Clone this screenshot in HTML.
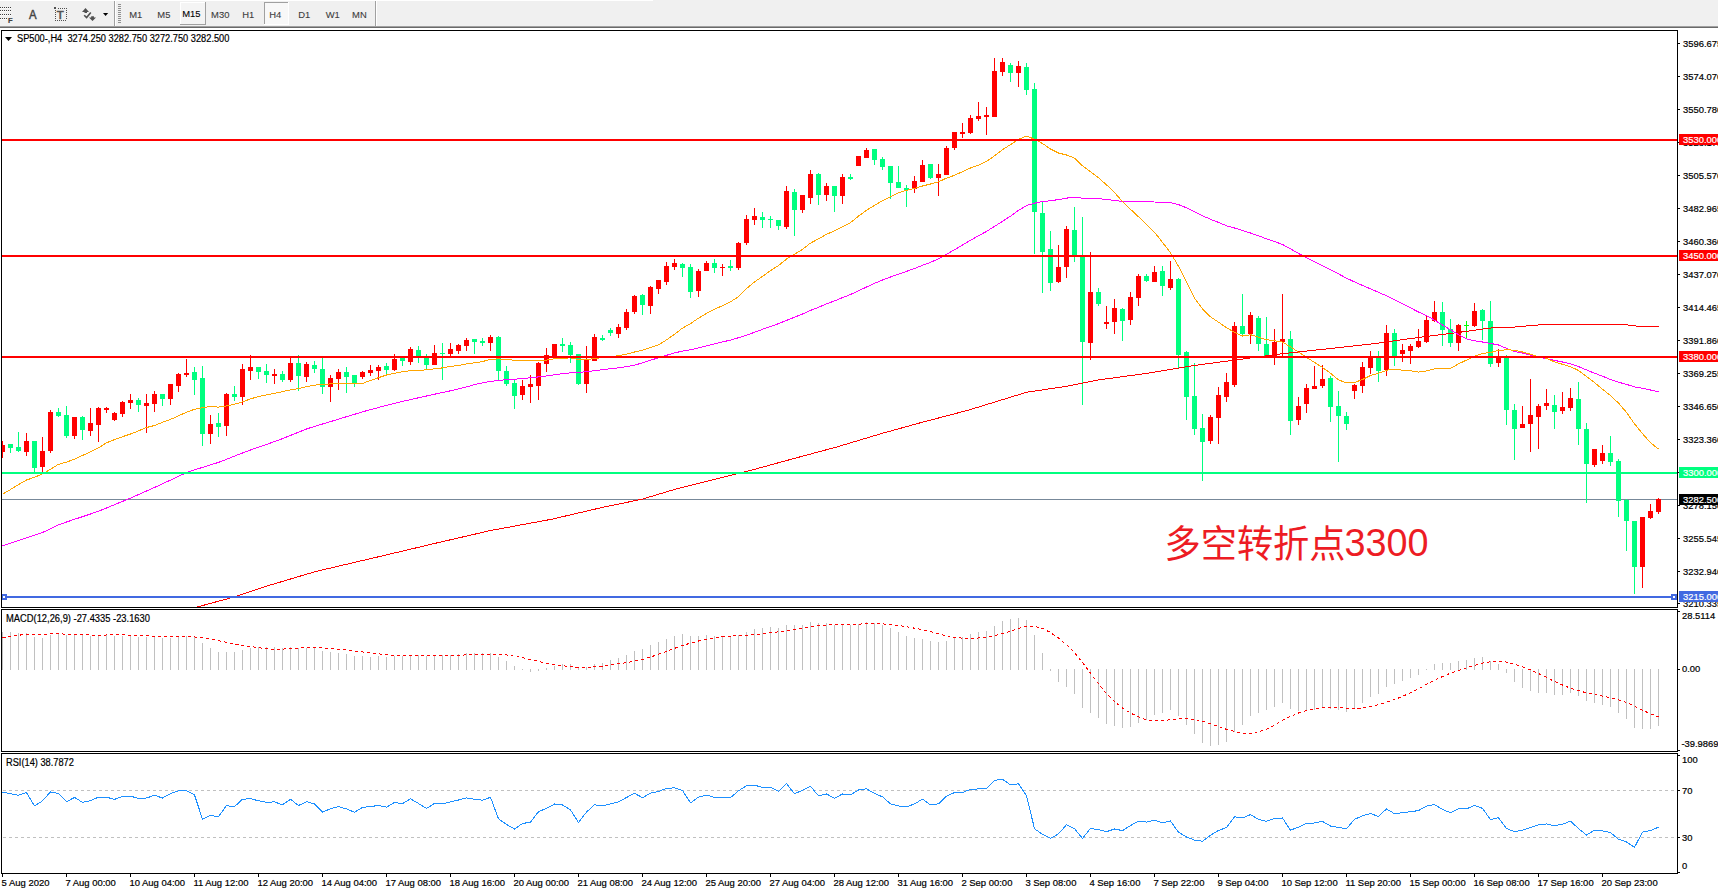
<!DOCTYPE html><html><head><meta charset="utf-8"><style>html,body{margin:0;padding:0;background:#fff;overflow:hidden}svg{display:block} text{font-family:'Liberation Sans', Arial, sans-serif;} .c{shape-rendering:crispEdges}</style></head><body>
<svg width="1718" height="891" viewBox="0 0 1718 891">
<rect x="0" y="0" width="1718" height="891" fill="#ffffff"/>
<g id="toolbar" class="c">
<rect x="0" y="0" width="1718" height="26" fill="#f0f0f0"/>
<rect x="0" y="0" width="653" height="1" fill="#ffffff"/>
<rect x="0" y="26" width="1718" height="1" fill="#a0a0a0"/>
<rect x="0" y="27" width="1718" height="1" fill="#696969"/>
</g>
<defs><clipPath id="cm"><rect x="2" y="31" width="1675" height="576"/></clipPath><clipPath id="cmacd"><rect x="2" y="611" width="1675" height="140"/></clipPath><clipPath id="crsi"><rect x="2" y="754" width="1675" height="118"/></clipPath></defs>
<rect x="2" y="499" width="1675" height="1" fill="#778899" class="c"/>
<g clip-path="url(#cm)" class="c">
<rect x="2" y="441" width="1" height="17" fill="#ff0000"/>
<rect x="0" y="445" width="5" height="7" fill="#ff0000"/>
<rect x="10" y="444" width="1" height="9" fill="#00ff7f"/>
<rect x="8" y="444" width="5" height="4" fill="#00ff7f"/>
<rect x="18" y="432" width="1" height="20" fill="#00ff7f"/>
<rect x="16" y="447" width="5" height="4" fill="#00ff7f"/>
<rect x="26" y="433" width="1" height="23" fill="#ff0000"/>
<rect x="24" y="441" width="5" height="11" fill="#ff0000"/>
<rect x="34" y="441" width="1" height="31" fill="#00ff7f"/>
<rect x="32" y="441" width="5" height="27" fill="#00ff7f"/>
<rect x="42" y="437" width="1" height="35" fill="#ff0000"/>
<rect x="40" y="451" width="5" height="16" fill="#ff0000"/>
<rect x="50" y="410" width="1" height="43" fill="#ff0000"/>
<rect x="48" y="412" width="5" height="39" fill="#ff0000"/>
<rect x="58" y="408" width="1" height="9" fill="#00ff7f"/>
<rect x="56" y="412" width="5" height="4" fill="#00ff7f"/>
<rect x="66" y="406" width="1" height="32" fill="#00ff7f"/>
<rect x="64" y="415" width="5" height="21" fill="#00ff7f"/>
<rect x="74" y="417" width="1" height="22" fill="#ff0000"/>
<rect x="72" y="417" width="5" height="19" fill="#ff0000"/>
<rect x="82" y="416" width="1" height="24" fill="#00ff7f"/>
<rect x="80" y="417" width="5" height="13" fill="#00ff7f"/>
<rect x="90" y="408" width="1" height="28" fill="#ff0000"/>
<rect x="88" y="423" width="5" height="8" fill="#ff0000"/>
<rect x="98" y="407" width="1" height="35" fill="#ff0000"/>
<rect x="96" y="408" width="5" height="17" fill="#ff0000"/>
<rect x="106" y="407" width="1" height="6" fill="#ff0000"/>
<rect x="104" y="408" width="5" height="2" fill="#ff0000"/>
<rect x="114" y="412" width="1" height="9" fill="#ff0000"/>
<rect x="112" y="413" width="5" height="7" fill="#ff0000"/>
<rect x="122" y="401" width="1" height="16" fill="#ff0000"/>
<rect x="120" y="402" width="5" height="12" fill="#ff0000"/>
<rect x="130" y="394" width="1" height="15" fill="#ff0000"/>
<rect x="128" y="400" width="5" height="3" fill="#ff0000"/>
<rect x="138" y="398" width="1" height="14" fill="#00ff7f"/>
<rect x="136" y="400" width="5" height="5" fill="#00ff7f"/>
<rect x="146" y="394" width="1" height="39" fill="#ff0000"/>
<rect x="144" y="403" width="5" height="3" fill="#ff0000"/>
<rect x="154" y="391" width="1" height="21" fill="#ff0000"/>
<rect x="152" y="394" width="5" height="10" fill="#ff0000"/>
<rect x="162" y="394" width="1" height="12" fill="#00ff7f"/>
<rect x="160" y="394" width="5" height="5" fill="#00ff7f"/>
<rect x="170" y="384" width="1" height="21" fill="#ff0000"/>
<rect x="168" y="384" width="5" height="15" fill="#ff0000"/>
<rect x="178" y="373" width="1" height="19" fill="#ff0000"/>
<rect x="176" y="374" width="5" height="12" fill="#ff0000"/>
<rect x="186" y="359" width="1" height="18" fill="#ff0000"/>
<rect x="184" y="373" width="5" height="2" fill="#ff0000"/>
<rect x="194" y="367" width="1" height="28" fill="#00ff7f"/>
<rect x="192" y="372" width="5" height="8" fill="#00ff7f"/>
<rect x="202" y="366" width="1" height="80" fill="#00ff7f"/>
<rect x="200" y="378" width="5" height="56" fill="#00ff7f"/>
<rect x="210" y="415" width="1" height="29" fill="#ff0000"/>
<rect x="208" y="424" width="5" height="10" fill="#ff0000"/>
<rect x="218" y="413" width="1" height="24" fill="#00ff7f"/>
<rect x="216" y="423" width="5" height="4" fill="#00ff7f"/>
<rect x="226" y="393" width="1" height="43" fill="#ff0000"/>
<rect x="224" y="394" width="5" height="32" fill="#ff0000"/>
<rect x="234" y="386" width="1" height="15" fill="#00ff7f"/>
<rect x="232" y="394" width="5" height="3" fill="#00ff7f"/>
<rect x="242" y="364" width="1" height="41" fill="#ff0000"/>
<rect x="240" y="369" width="5" height="28" fill="#ff0000"/>
<rect x="250" y="355" width="1" height="25" fill="#ff0000"/>
<rect x="248" y="367" width="5" height="4" fill="#ff0000"/>
<rect x="258" y="367" width="1" height="12" fill="#00ff7f"/>
<rect x="256" y="367" width="5" height="5" fill="#00ff7f"/>
<rect x="266" y="364" width="1" height="19" fill="#00ff7f"/>
<rect x="264" y="371" width="5" height="4" fill="#00ff7f"/>
<rect x="274" y="369" width="1" height="15" fill="#ff0000"/>
<rect x="272" y="374" width="5" height="2" fill="#ff0000"/>
<rect x="282" y="371" width="1" height="11" fill="#00ff7f"/>
<rect x="280" y="374" width="5" height="6" fill="#00ff7f"/>
<rect x="290" y="357" width="1" height="25" fill="#ff0000"/>
<rect x="288" y="363" width="5" height="17" fill="#ff0000"/>
<rect x="298" y="355" width="1" height="36" fill="#00ff7f"/>
<rect x="296" y="363" width="5" height="13" fill="#00ff7f"/>
<rect x="306" y="362" width="1" height="20" fill="#ff0000"/>
<rect x="304" y="364" width="5" height="13" fill="#ff0000"/>
<rect x="314" y="361" width="1" height="12" fill="#00ff7f"/>
<rect x="312" y="365" width="5" height="4" fill="#00ff7f"/>
<rect x="322" y="357" width="1" height="37" fill="#00ff7f"/>
<rect x="320" y="369" width="5" height="18" fill="#00ff7f"/>
<rect x="330" y="375" width="1" height="27" fill="#ff0000"/>
<rect x="328" y="378" width="5" height="9" fill="#ff0000"/>
<rect x="338" y="369" width="1" height="21" fill="#ff0000"/>
<rect x="336" y="372" width="5" height="7" fill="#ff0000"/>
<rect x="346" y="367" width="1" height="26" fill="#00ff7f"/>
<rect x="344" y="372" width="5" height="5" fill="#00ff7f"/>
<rect x="354" y="375" width="1" height="12" fill="#00ff7f"/>
<rect x="352" y="375" width="5" height="9" fill="#00ff7f"/>
<rect x="362" y="371" width="1" height="8" fill="#ff0000"/>
<rect x="360" y="372" width="5" height="5" fill="#ff0000"/>
<rect x="370" y="365" width="1" height="11" fill="#ff0000"/>
<rect x="368" y="370" width="5" height="3" fill="#ff0000"/>
<rect x="378" y="365" width="1" height="15" fill="#ff0000"/>
<rect x="376" y="367" width="5" height="4" fill="#ff0000"/>
<rect x="386" y="363" width="1" height="12" fill="#00ff7f"/>
<rect x="384" y="366" width="5" height="4" fill="#00ff7f"/>
<rect x="394" y="354" width="1" height="17" fill="#ff0000"/>
<rect x="392" y="359" width="5" height="11" fill="#ff0000"/>
<rect x="402" y="356" width="1" height="10" fill="#00ff7f"/>
<rect x="400" y="358" width="5" height="3" fill="#00ff7f"/>
<rect x="410" y="347" width="1" height="18" fill="#ff0000"/>
<rect x="408" y="349" width="5" height="13" fill="#ff0000"/>
<rect x="418" y="346" width="1" height="17" fill="#00ff7f"/>
<rect x="416" y="350" width="5" height="6" fill="#00ff7f"/>
<rect x="426" y="354" width="1" height="16" fill="#00ff7f"/>
<rect x="424" y="358" width="5" height="7" fill="#00ff7f"/>
<rect x="434" y="345" width="1" height="20" fill="#ff0000"/>
<rect x="432" y="353" width="5" height="12" fill="#ff0000"/>
<rect x="442" y="343" width="1" height="37" fill="#00ff7f"/>
<rect x="440" y="353" width="5" height="1" fill="#00ff7f"/>
<rect x="450" y="343" width="1" height="13" fill="#ff0000"/>
<rect x="448" y="349" width="5" height="5" fill="#ff0000"/>
<rect x="458" y="344" width="1" height="10" fill="#ff0000"/>
<rect x="456" y="345" width="5" height="6" fill="#ff0000"/>
<rect x="466" y="338" width="1" height="13" fill="#ff0000"/>
<rect x="464" y="340" width="5" height="6" fill="#ff0000"/>
<rect x="474" y="339" width="1" height="15" fill="#00ff7f"/>
<rect x="472" y="339" width="5" height="3" fill="#00ff7f"/>
<rect x="482" y="338" width="1" height="8" fill="#00ff7f"/>
<rect x="480" y="341" width="5" height="2" fill="#00ff7f"/>
<rect x="490" y="335" width="1" height="16" fill="#ff0000"/>
<rect x="488" y="337" width="5" height="6" fill="#ff0000"/>
<rect x="498" y="336" width="1" height="44" fill="#00ff7f"/>
<rect x="496" y="337" width="5" height="34" fill="#00ff7f"/>
<rect x="506" y="366" width="1" height="20" fill="#00ff7f"/>
<rect x="504" y="371" width="5" height="13" fill="#00ff7f"/>
<rect x="514" y="380" width="1" height="29" fill="#00ff7f"/>
<rect x="512" y="383" width="5" height="13" fill="#00ff7f"/>
<rect x="522" y="380" width="1" height="20" fill="#ff0000"/>
<rect x="520" y="386" width="5" height="9" fill="#ff0000"/>
<rect x="530" y="375" width="1" height="28" fill="#ff0000"/>
<rect x="528" y="384" width="5" height="3" fill="#ff0000"/>
<rect x="538" y="362" width="1" height="38" fill="#ff0000"/>
<rect x="536" y="363" width="5" height="23" fill="#ff0000"/>
<rect x="546" y="348" width="1" height="24" fill="#ff0000"/>
<rect x="544" y="355" width="5" height="9" fill="#ff0000"/>
<rect x="554" y="344" width="1" height="15" fill="#ff0000"/>
<rect x="552" y="344" width="5" height="14" fill="#ff0000"/>
<rect x="562" y="338" width="1" height="14" fill="#00ff7f"/>
<rect x="560" y="344" width="5" height="2" fill="#00ff7f"/>
<rect x="570" y="342" width="1" height="21" fill="#00ff7f"/>
<rect x="568" y="345" width="5" height="10" fill="#00ff7f"/>
<rect x="578" y="354" width="1" height="31" fill="#00ff7f"/>
<rect x="576" y="354" width="5" height="30" fill="#00ff7f"/>
<rect x="586" y="346" width="1" height="47" fill="#ff0000"/>
<rect x="584" y="359" width="5" height="25" fill="#ff0000"/>
<rect x="594" y="334" width="1" height="27" fill="#ff0000"/>
<rect x="592" y="337" width="5" height="24" fill="#ff0000"/>
<rect x="602" y="335" width="1" height="6" fill="#00ff7f"/>
<rect x="600" y="338" width="5" height="2" fill="#00ff7f"/>
<rect x="610" y="328" width="1" height="8" fill="#00ff7f"/>
<rect x="608" y="330" width="5" height="3" fill="#00ff7f"/>
<rect x="618" y="324" width="1" height="14" fill="#ff0000"/>
<rect x="616" y="327" width="5" height="7" fill="#ff0000"/>
<rect x="626" y="309" width="1" height="21" fill="#ff0000"/>
<rect x="624" y="312" width="5" height="16" fill="#ff0000"/>
<rect x="634" y="295" width="1" height="19" fill="#ff0000"/>
<rect x="632" y="296" width="5" height="16" fill="#ff0000"/>
<rect x="642" y="294" width="1" height="21" fill="#00ff7f"/>
<rect x="640" y="295" width="5" height="10" fill="#00ff7f"/>
<rect x="650" y="286" width="1" height="28" fill="#ff0000"/>
<rect x="648" y="287" width="5" height="19" fill="#ff0000"/>
<rect x="658" y="280" width="1" height="14" fill="#ff0000"/>
<rect x="656" y="280" width="5" height="9" fill="#ff0000"/>
<rect x="666" y="262" width="1" height="23" fill="#ff0000"/>
<rect x="664" y="266" width="5" height="16" fill="#ff0000"/>
<rect x="674" y="259" width="1" height="11" fill="#ff0000"/>
<rect x="672" y="263" width="5" height="4" fill="#ff0000"/>
<rect x="682" y="263" width="1" height="14" fill="#00ff7f"/>
<rect x="680" y="264" width="5" height="4" fill="#00ff7f"/>
<rect x="690" y="264" width="1" height="34" fill="#00ff7f"/>
<rect x="688" y="267" width="5" height="25" fill="#00ff7f"/>
<rect x="698" y="269" width="1" height="28" fill="#ff0000"/>
<rect x="696" y="271" width="5" height="20" fill="#ff0000"/>
<rect x="706" y="261" width="1" height="10" fill="#ff0000"/>
<rect x="704" y="263" width="5" height="8" fill="#ff0000"/>
<rect x="714" y="259" width="1" height="14" fill="#00ff7f"/>
<rect x="712" y="263" width="5" height="5" fill="#00ff7f"/>
<rect x="722" y="264" width="1" height="12" fill="#ff0000"/>
<rect x="720" y="267" width="5" height="1" fill="#ff0000"/>
<rect x="730" y="260" width="1" height="11" fill="#00ff7f"/>
<rect x="728" y="266" width="5" height="2" fill="#00ff7f"/>
<rect x="738" y="242" width="1" height="28" fill="#ff0000"/>
<rect x="736" y="243" width="5" height="25" fill="#ff0000"/>
<rect x="746" y="215" width="1" height="30" fill="#ff0000"/>
<rect x="744" y="219" width="5" height="24" fill="#ff0000"/>
<rect x="754" y="208" width="1" height="17" fill="#ff0000"/>
<rect x="752" y="216" width="5" height="4" fill="#ff0000"/>
<rect x="762" y="212" width="1" height="16" fill="#00ff7f"/>
<rect x="760" y="217" width="5" height="3" fill="#00ff7f"/>
<rect x="770" y="216" width="1" height="12" fill="#00ff7f"/>
<rect x="768" y="219" width="5" height="1" fill="#00ff7f"/>
<rect x="778" y="220" width="1" height="10" fill="#00ff7f"/>
<rect x="776" y="220" width="5" height="6" fill="#00ff7f"/>
<rect x="786" y="186" width="1" height="43" fill="#ff0000"/>
<rect x="784" y="191" width="5" height="36" fill="#ff0000"/>
<rect x="794" y="189" width="1" height="47" fill="#00ff7f"/>
<rect x="792" y="192" width="5" height="18" fill="#00ff7f"/>
<rect x="802" y="195" width="1" height="18" fill="#ff0000"/>
<rect x="800" y="195" width="5" height="15" fill="#ff0000"/>
<rect x="810" y="170" width="1" height="34" fill="#ff0000"/>
<rect x="808" y="174" width="5" height="24" fill="#ff0000"/>
<rect x="818" y="173" width="1" height="32" fill="#00ff7f"/>
<rect x="816" y="174" width="5" height="21" fill="#00ff7f"/>
<rect x="826" y="183" width="1" height="18" fill="#ff0000"/>
<rect x="824" y="186" width="5" height="9" fill="#ff0000"/>
<rect x="834" y="186" width="1" height="26" fill="#00ff7f"/>
<rect x="832" y="186" width="5" height="10" fill="#00ff7f"/>
<rect x="842" y="174" width="1" height="30" fill="#ff0000"/>
<rect x="840" y="177" width="5" height="19" fill="#ff0000"/>
<rect x="850" y="174" width="1" height="6" fill="#00ff7f"/>
<rect x="848" y="177" width="5" height="2" fill="#00ff7f"/>
<rect x="858" y="156" width="1" height="10" fill="#ff0000"/>
<rect x="856" y="156" width="5" height="10" fill="#ff0000"/>
<rect x="866" y="148" width="1" height="10" fill="#ff0000"/>
<rect x="864" y="150" width="5" height="8" fill="#ff0000"/>
<rect x="874" y="149" width="1" height="16" fill="#00ff7f"/>
<rect x="872" y="149" width="5" height="11" fill="#00ff7f"/>
<rect x="882" y="157" width="1" height="13" fill="#00ff7f"/>
<rect x="880" y="159" width="5" height="8" fill="#00ff7f"/>
<rect x="890" y="166" width="1" height="33" fill="#00ff7f"/>
<rect x="888" y="166" width="5" height="17" fill="#00ff7f"/>
<rect x="898" y="166" width="1" height="22" fill="#00ff7f"/>
<rect x="896" y="182" width="5" height="6" fill="#00ff7f"/>
<rect x="906" y="185" width="1" height="22" fill="#00ff7f"/>
<rect x="904" y="188" width="5" height="2" fill="#00ff7f"/>
<rect x="914" y="176" width="1" height="17" fill="#ff0000"/>
<rect x="912" y="181" width="5" height="8" fill="#ff0000"/>
<rect x="922" y="160" width="1" height="22" fill="#ff0000"/>
<rect x="920" y="165" width="5" height="17" fill="#ff0000"/>
<rect x="930" y="164" width="1" height="15" fill="#00ff7f"/>
<rect x="928" y="164" width="5" height="14" fill="#00ff7f"/>
<rect x="938" y="164" width="1" height="32" fill="#ff0000"/>
<rect x="936" y="174" width="5" height="4" fill="#ff0000"/>
<rect x="946" y="146" width="1" height="29" fill="#ff0000"/>
<rect x="944" y="148" width="5" height="27" fill="#ff0000"/>
<rect x="954" y="132" width="1" height="18" fill="#ff0000"/>
<rect x="952" y="132" width="5" height="16" fill="#ff0000"/>
<rect x="962" y="123" width="1" height="15" fill="#ff0000"/>
<rect x="960" y="132" width="5" height="2" fill="#ff0000"/>
<rect x="970" y="115" width="1" height="19" fill="#ff0000"/>
<rect x="968" y="118" width="5" height="15" fill="#ff0000"/>
<rect x="978" y="102" width="1" height="19" fill="#ff0000"/>
<rect x="976" y="116" width="5" height="3" fill="#ff0000"/>
<rect x="986" y="107" width="1" height="28" fill="#ff0000"/>
<rect x="984" y="115" width="5" height="2" fill="#ff0000"/>
<rect x="994" y="58" width="1" height="59" fill="#ff0000"/>
<rect x="992" y="71" width="5" height="46" fill="#ff0000"/>
<rect x="1002" y="58" width="1" height="18" fill="#ff0000"/>
<rect x="1000" y="62" width="5" height="10" fill="#ff0000"/>
<rect x="1010" y="63" width="1" height="19" fill="#00ff7f"/>
<rect x="1008" y="65" width="5" height="8" fill="#00ff7f"/>
<rect x="1018" y="61" width="1" height="26" fill="#ff0000"/>
<rect x="1016" y="66" width="5" height="7" fill="#ff0000"/>
<rect x="1026" y="63" width="1" height="32" fill="#00ff7f"/>
<rect x="1024" y="67" width="5" height="23" fill="#00ff7f"/>
<rect x="1034" y="83" width="1" height="171" fill="#00ff7f"/>
<rect x="1032" y="89" width="5" height="123" fill="#00ff7f"/>
<rect x="1042" y="202" width="1" height="91" fill="#00ff7f"/>
<rect x="1040" y="213" width="5" height="39" fill="#00ff7f"/>
<rect x="1050" y="231" width="1" height="60" fill="#00ff7f"/>
<rect x="1048" y="249" width="5" height="34" fill="#00ff7f"/>
<rect x="1058" y="245" width="1" height="38" fill="#ff0000"/>
<rect x="1056" y="267" width="5" height="15" fill="#ff0000"/>
<rect x="1066" y="226" width="1" height="52" fill="#ff0000"/>
<rect x="1064" y="229" width="5" height="38" fill="#ff0000"/>
<rect x="1074" y="207" width="1" height="55" fill="#00ff7f"/>
<rect x="1072" y="230" width="5" height="26" fill="#00ff7f"/>
<rect x="1082" y="217" width="1" height="188" fill="#00ff7f"/>
<rect x="1080" y="257" width="5" height="85" fill="#00ff7f"/>
<rect x="1090" y="252" width="1" height="108" fill="#ff0000"/>
<rect x="1088" y="292" width="5" height="51" fill="#ff0000"/>
<rect x="1098" y="288" width="1" height="18" fill="#00ff7f"/>
<rect x="1096" y="292" width="5" height="12" fill="#00ff7f"/>
<rect x="1106" y="306" width="1" height="23" fill="#ff0000"/>
<rect x="1104" y="322" width="5" height="2" fill="#ff0000"/>
<rect x="1114" y="299" width="1" height="35" fill="#ff0000"/>
<rect x="1112" y="308" width="5" height="14" fill="#ff0000"/>
<rect x="1122" y="308" width="1" height="33" fill="#00ff7f"/>
<rect x="1120" y="309" width="5" height="12" fill="#00ff7f"/>
<rect x="1130" y="292" width="1" height="33" fill="#ff0000"/>
<rect x="1128" y="297" width="5" height="23" fill="#ff0000"/>
<rect x="1138" y="274" width="1" height="32" fill="#ff0000"/>
<rect x="1136" y="276" width="5" height="22" fill="#ff0000"/>
<rect x="1146" y="274" width="1" height="8" fill="#00ff7f"/>
<rect x="1144" y="276" width="5" height="5" fill="#00ff7f"/>
<rect x="1154" y="266" width="1" height="16" fill="#ff0000"/>
<rect x="1152" y="272" width="5" height="10" fill="#ff0000"/>
<rect x="1162" y="266" width="1" height="30" fill="#00ff7f"/>
<rect x="1160" y="271" width="5" height="15" fill="#00ff7f"/>
<rect x="1170" y="261" width="1" height="29" fill="#ff0000"/>
<rect x="1168" y="279" width="5" height="9" fill="#ff0000"/>
<rect x="1178" y="278" width="1" height="90" fill="#00ff7f"/>
<rect x="1176" y="279" width="5" height="76" fill="#00ff7f"/>
<rect x="1186" y="351" width="1" height="69" fill="#00ff7f"/>
<rect x="1184" y="352" width="5" height="45" fill="#00ff7f"/>
<rect x="1194" y="363" width="1" height="72" fill="#00ff7f"/>
<rect x="1192" y="396" width="5" height="33" fill="#00ff7f"/>
<rect x="1202" y="414" width="1" height="67" fill="#00ff7f"/>
<rect x="1200" y="428" width="5" height="14" fill="#00ff7f"/>
<rect x="1210" y="415" width="1" height="29" fill="#ff0000"/>
<rect x="1208" y="417" width="5" height="24" fill="#ff0000"/>
<rect x="1218" y="387" width="1" height="57" fill="#ff0000"/>
<rect x="1216" y="395" width="5" height="23" fill="#ff0000"/>
<rect x="1226" y="373" width="1" height="29" fill="#ff0000"/>
<rect x="1224" y="382" width="5" height="15" fill="#ff0000"/>
<rect x="1234" y="322" width="1" height="65" fill="#ff0000"/>
<rect x="1232" y="326" width="5" height="59" fill="#ff0000"/>
<rect x="1242" y="294" width="1" height="42" fill="#00ff7f"/>
<rect x="1240" y="326" width="5" height="8" fill="#00ff7f"/>
<rect x="1250" y="312" width="1" height="32" fill="#ff0000"/>
<rect x="1248" y="315" width="5" height="19" fill="#ff0000"/>
<rect x="1258" y="316" width="1" height="35" fill="#00ff7f"/>
<rect x="1256" y="318" width="5" height="26" fill="#00ff7f"/>
<rect x="1266" y="317" width="1" height="39" fill="#00ff7f"/>
<rect x="1264" y="344" width="5" height="12" fill="#00ff7f"/>
<rect x="1274" y="329" width="1" height="36" fill="#ff0000"/>
<rect x="1272" y="342" width="5" height="15" fill="#ff0000"/>
<rect x="1282" y="294" width="1" height="62" fill="#ff0000"/>
<rect x="1280" y="339" width="5" height="3" fill="#ff0000"/>
<rect x="1290" y="331" width="1" height="104" fill="#00ff7f"/>
<rect x="1288" y="339" width="5" height="82" fill="#00ff7f"/>
<rect x="1298" y="397" width="1" height="28" fill="#ff0000"/>
<rect x="1296" y="406" width="5" height="14" fill="#ff0000"/>
<rect x="1306" y="384" width="1" height="29" fill="#ff0000"/>
<rect x="1304" y="388" width="5" height="16" fill="#ff0000"/>
<rect x="1314" y="366" width="1" height="23" fill="#ff0000"/>
<rect x="1312" y="386" width="5" height="3" fill="#ff0000"/>
<rect x="1322" y="365" width="1" height="23" fill="#ff0000"/>
<rect x="1320" y="379" width="5" height="7" fill="#ff0000"/>
<rect x="1330" y="376" width="1" height="46" fill="#00ff7f"/>
<rect x="1328" y="378" width="5" height="29" fill="#00ff7f"/>
<rect x="1338" y="391" width="1" height="71" fill="#00ff7f"/>
<rect x="1336" y="406" width="5" height="10" fill="#00ff7f"/>
<rect x="1346" y="412" width="1" height="18" fill="#00ff7f"/>
<rect x="1344" y="416" width="5" height="8" fill="#00ff7f"/>
<rect x="1354" y="384" width="1" height="15" fill="#ff0000"/>
<rect x="1352" y="385" width="5" height="6" fill="#ff0000"/>
<rect x="1362" y="362" width="1" height="31" fill="#ff0000"/>
<rect x="1360" y="367" width="5" height="19" fill="#ff0000"/>
<rect x="1370" y="351" width="1" height="23" fill="#ff0000"/>
<rect x="1368" y="356" width="5" height="12" fill="#ff0000"/>
<rect x="1378" y="351" width="1" height="31" fill="#00ff7f"/>
<rect x="1376" y="357" width="5" height="14" fill="#00ff7f"/>
<rect x="1386" y="325" width="1" height="51" fill="#ff0000"/>
<rect x="1384" y="333" width="5" height="37" fill="#ff0000"/>
<rect x="1394" y="329" width="1" height="37" fill="#00ff7f"/>
<rect x="1392" y="333" width="5" height="23" fill="#00ff7f"/>
<rect x="1402" y="344" width="1" height="18" fill="#ff0000"/>
<rect x="1400" y="350" width="5" height="4" fill="#ff0000"/>
<rect x="1410" y="344" width="1" height="20" fill="#ff0000"/>
<rect x="1408" y="346" width="5" height="5" fill="#ff0000"/>
<rect x="1418" y="329" width="1" height="19" fill="#ff0000"/>
<rect x="1416" y="341" width="5" height="6" fill="#ff0000"/>
<rect x="1426" y="316" width="1" height="27" fill="#ff0000"/>
<rect x="1424" y="320" width="5" height="22" fill="#ff0000"/>
<rect x="1434" y="301" width="1" height="21" fill="#ff0000"/>
<rect x="1432" y="312" width="5" height="9" fill="#ff0000"/>
<rect x="1442" y="302" width="1" height="44" fill="#00ff7f"/>
<rect x="1440" y="312" width="5" height="18" fill="#00ff7f"/>
<rect x="1450" y="319" width="1" height="28" fill="#00ff7f"/>
<rect x="1448" y="329" width="5" height="14" fill="#00ff7f"/>
<rect x="1458" y="324" width="1" height="27" fill="#ff0000"/>
<rect x="1456" y="325" width="5" height="18" fill="#ff0000"/>
<rect x="1466" y="321" width="1" height="17" fill="#00ff00"/>
<rect x="1464" y="325" width="5" height="1" fill="#00ff00"/>
<rect x="1474" y="303" width="1" height="24" fill="#ff0000"/>
<rect x="1472" y="311" width="5" height="15" fill="#ff0000"/>
<rect x="1482" y="309" width="1" height="31" fill="#00ff7f"/>
<rect x="1480" y="310" width="5" height="11" fill="#00ff7f"/>
<rect x="1490" y="301" width="1" height="66" fill="#00ff7f"/>
<rect x="1488" y="321" width="5" height="43" fill="#00ff7f"/>
<rect x="1498" y="349" width="1" height="18" fill="#ff0000"/>
<rect x="1496" y="357" width="5" height="6" fill="#ff0000"/>
<rect x="1506" y="355" width="1" height="70" fill="#00ff7f"/>
<rect x="1504" y="357" width="5" height="53" fill="#00ff7f"/>
<rect x="1514" y="404" width="1" height="56" fill="#00ff7f"/>
<rect x="1512" y="410" width="5" height="19" fill="#00ff7f"/>
<rect x="1522" y="406" width="1" height="22" fill="#ff0000"/>
<rect x="1520" y="424" width="5" height="4" fill="#ff0000"/>
<rect x="1530" y="379" width="1" height="73" fill="#ff0000"/>
<rect x="1528" y="415" width="5" height="9" fill="#ff0000"/>
<rect x="1538" y="404" width="1" height="45" fill="#ff0000"/>
<rect x="1536" y="406" width="5" height="11" fill="#ff0000"/>
<rect x="1546" y="389" width="1" height="21" fill="#ff0000"/>
<rect x="1544" y="403" width="5" height="3" fill="#ff0000"/>
<rect x="1554" y="395" width="1" height="34" fill="#00ff7f"/>
<rect x="1552" y="405" width="5" height="7" fill="#00ff7f"/>
<rect x="1562" y="392" width="1" height="22" fill="#ff0000"/>
<rect x="1560" y="407" width="5" height="4" fill="#ff0000"/>
<rect x="1570" y="388" width="1" height="23" fill="#ff0000"/>
<rect x="1568" y="398" width="5" height="10" fill="#ff0000"/>
<rect x="1578" y="382" width="1" height="63" fill="#00ff7f"/>
<rect x="1576" y="399" width="5" height="30" fill="#00ff7f"/>
<rect x="1586" y="423" width="1" height="80" fill="#00ff7f"/>
<rect x="1584" y="429" width="5" height="35" fill="#00ff7f"/>
<rect x="1594" y="449" width="1" height="18" fill="#ff0000"/>
<rect x="1592" y="449" width="5" height="16" fill="#ff0000"/>
<rect x="1602" y="445" width="1" height="19" fill="#ff0000"/>
<rect x="1600" y="453" width="5" height="8" fill="#ff0000"/>
<rect x="1610" y="436" width="1" height="30" fill="#00ff7f"/>
<rect x="1608" y="453" width="5" height="9" fill="#00ff7f"/>
<rect x="1618" y="459" width="1" height="58" fill="#00ff7f"/>
<rect x="1616" y="461" width="5" height="40" fill="#00ff7f"/>
<rect x="1626" y="499" width="1" height="52" fill="#00ff7f"/>
<rect x="1624" y="500" width="5" height="21" fill="#00ff7f"/>
<rect x="1634" y="521" width="1" height="73" fill="#00ff7f"/>
<rect x="1632" y="521" width="5" height="46" fill="#00ff7f"/>
<rect x="1642" y="517" width="1" height="71" fill="#ff0000"/>
<rect x="1640" y="517" width="5" height="50" fill="#ff0000"/>
<rect x="1650" y="504" width="1" height="15" fill="#ff0000"/>
<rect x="1648" y="511" width="5" height="7" fill="#ff0000"/>
<rect x="1658" y="498" width="1" height="16" fill="#ff0000"/>
<rect x="1656" y="499" width="5" height="13" fill="#ff0000"/>
</g>
<g clip-path="url(#cm)" class="c">
<polyline points="195.5,607.6 198.6,606.6 234.0,597.0 267.8,585.8 315.0,571.7 382.6,555.8 436.6,543.0 490.6,530.5 551.4,519.3 602.0,507.5 642.5,499.1 676.3,488.9 748.1,471.1 795.4,458.1 837.8,446.7 883.4,433.0 922.5,422.2 968.2,410.2 1026.8,392.2 1066.0,386.4 1098.5,379.9 1147.4,373.3 1196.3,365.2 1245.2,358.7 1280.0,354.0 1326.6,348.9 1373.1,343.8 1419.7,337.3 1466.3,331.4 1494.2,327.5 1512.8,327.2 1536.1,325.1 1559.4,324.0 1619.9,324.0 1638.6,326.3 1658.5,326.3" fill="none" stroke="#ff0000" stroke-width="1" />
<polyline points="2.5,545.8 10.5,543.1 18.5,540.4 26.5,537.8 34.5,535.1 42.5,532.5 50.5,528.7 58.5,524.9 66.5,522.0 74.5,519.3 82.5,516.7 90.5,514.0 98.5,511.2 106.5,508.0 114.5,504.7 122.5,501.4 130.5,498.1 138.5,494.6 146.5,491.0 154.5,487.5 162.5,483.8 170.5,480.1 178.5,476.3 186.5,472.6 194.5,469.9 202.5,467.4 210.5,464.9 218.5,462.4 226.5,459.3 234.5,456.1 242.5,453.0 250.5,450.0 258.5,447.2 266.5,444.4 274.5,441.6 282.5,438.6 290.5,435.4 298.5,432.2 306.5,429.0 314.5,426.4 322.5,424.0 330.5,421.6 338.5,419.2 346.5,416.7 354.5,414.3 362.5,411.9 370.5,409.6 378.5,407.5 386.5,405.4 394.5,403.4 402.5,401.4 410.5,399.6 418.5,397.8 426.5,396.0 434.5,394.2 442.5,392.6 450.5,390.8 458.5,388.9 466.5,387.0 474.5,384.7 482.5,382.8 490.5,381.4 498.5,380.6 506.5,379.6 514.5,379.3 522.5,378.5 530.5,377.8 538.5,376.9 546.5,376.0 554.5,374.7 562.5,373.7 570.5,372.9 578.5,372.5 586.5,371.7 594.5,370.7 602.5,369.6 610.5,368.7 618.5,367.8 626.5,366.7 634.5,365.2 642.5,362.8 650.5,360.3 658.5,357.7 666.5,355.3 674.5,352.9 682.5,351.1 690.5,349.7 698.5,347.9 706.5,345.8 714.5,343.9 722.5,341.9 730.5,340.1 738.5,337.7 746.5,335.1 754.5,332.3 762.5,329.3 770.5,326.4 778.5,323.7 786.5,320.4 794.5,317.2 802.5,314.0 810.5,310.4 818.5,307.3 826.5,303.9 834.5,300.9 842.5,297.6 850.5,294.5 858.5,290.9 866.5,287.0 874.5,283.4 882.5,280.0 890.5,277.0 898.5,274.2 906.5,271.4 914.5,268.5 922.5,265.3 930.5,262.4 938.5,258.8 946.5,254.5 954.5,249.7 962.5,245.1 970.5,240.3 978.5,235.8 986.5,231.4 994.5,226.4 1002.5,221.3 1010.5,216.2 1018.5,210.4 1026.5,205.5 1034.5,203.2 1042.5,201.6 1050.5,200.7 1058.5,199.6 1066.5,198.1 1074.5,197.4 1082.5,198.1 1090.5,198.2 1098.5,198.6 1106.5,199.6 1114.5,200.4 1122.5,201.4 1130.5,201.5 1138.5,201.6 1146.5,201.9 1154.5,202.0 1162.5,202.3 1170.5,202.5 1178.5,204.6 1186.5,207.8 1194.5,211.7 1202.5,215.7 1210.5,219.3 1218.5,222.4 1226.5,225.8 1234.5,228.0 1242.5,230.5 1250.5,233.0 1258.5,235.8 1266.5,238.8 1274.5,241.5 1282.5,244.5 1290.5,248.9 1298.5,253.4 1306.5,257.7 1314.5,261.8 1322.5,265.7 1330.5,269.8 1338.5,273.9 1346.5,278.2 1354.5,281.9 1362.5,285.5 1370.5,288.8 1378.5,292.4 1386.5,295.7 1394.5,299.8 1402.5,303.8 1410.5,307.9 1418.5,312.0 1426.5,315.7 1434.5,320.1 1442.5,325.0 1450.5,329.9 1458.5,334.6 1466.5,338.9 1474.5,340.7 1482.5,342.0 1490.5,343.4 1498.5,345.0 1506.5,348.3 1514.5,351.5 1522.5,353.0 1530.5,355.2 1538.5,357.1 1546.5,358.6 1554.5,360.4 1562.5,362.0 1570.5,363.8 1578.5,366.6 1586.5,369.9 1594.5,373.2 1602.5,376.2 1610.5,379.5 1618.5,382.2 1626.5,384.4 1634.5,386.9 1642.5,388.3 1650.5,390.0 1658.5,391.9" fill="none" stroke="#ff00ff" stroke-width="1" />
<polyline points="2.5,494.3 10.5,489.5 18.5,484.6 26.5,480.0 34.5,477.3 42.5,473.9 50.5,469.2 58.5,464.3 66.5,462.2 74.5,459.1 82.5,455.5 90.5,451.8 98.5,447.8 106.5,442.8 114.5,439.6 122.5,436.7 130.5,434.0 138.5,430.9 146.5,427.5 154.5,425.5 162.5,422.3 170.5,419.4 178.5,415.9 186.5,412.2 194.5,409.3 202.5,407.7 210.5,406.4 218.5,407.1 226.5,406.0 234.5,404.2 242.5,401.9 250.5,398.9 258.5,396.5 266.5,394.9 274.5,393.3 282.5,391.7 290.5,389.8 298.5,388.7 306.5,386.7 314.5,385.1 322.5,384.7 330.5,383.8 338.5,383.2 346.5,383.3 354.5,383.9 362.5,383.5 370.5,380.4 378.5,377.7 386.5,375.0 394.5,373.4 402.5,371.7 410.5,370.7 418.5,370.2 426.5,369.9 434.5,368.8 442.5,367.9 450.5,366.4 458.5,365.6 466.5,363.9 474.5,362.8 482.5,361.6 490.5,359.2 498.5,358.9 506.5,359.4 514.5,360.3 522.5,360.4 530.5,361.0 538.5,360.7 546.5,360.1 554.5,358.8 562.5,358.2 570.5,357.9 578.5,359.6 586.5,359.7 594.5,358.4 602.5,357.7 610.5,356.7 618.5,355.7 626.5,354.1 634.5,352.0 642.5,350.3 650.5,347.6 658.5,344.9 666.5,339.9 674.5,334.2 682.5,328.1 690.5,323.6 698.5,318.2 706.5,313.4 714.5,309.3 722.5,305.6 730.5,301.9 738.5,296.6 746.5,288.7 754.5,281.9 762.5,276.4 770.5,270.6 778.5,265.5 786.5,259.1 794.5,254.2 802.5,249.4 810.5,243.1 818.5,238.8 826.5,234.3 834.5,230.9 842.5,226.8 850.5,222.6 858.5,216.1 866.5,210.3 874.5,205.4 882.5,200.6 890.5,196.6 898.5,192.8 906.5,190.3 914.5,188.5 922.5,186.0 930.5,184.0 938.5,181.9 946.5,178.1 954.5,175.3 962.5,171.6 970.5,168.0 978.5,165.2 986.5,161.4 994.5,155.9 1002.5,149.6 1010.5,144.6 1018.5,139.3 1026.5,136.1 1034.5,139.1 1042.5,143.5 1050.5,149.0 1058.5,153.0 1066.5,155.0 1074.5,158.1 1082.5,165.8 1090.5,171.8 1098.5,177.8 1106.5,184.8 1114.5,192.5 1122.5,201.5 1130.5,209.3 1138.5,216.8 1146.5,224.7 1154.5,232.2 1162.5,242.4 1170.5,252.8 1178.5,266.2 1186.5,281.9 1194.5,298.1 1202.5,309.0 1210.5,316.9 1218.5,322.2 1226.5,327.7 1234.5,332.3 1242.5,336.0 1250.5,334.7 1258.5,337.2 1266.5,339.7 1274.5,340.7 1282.5,342.1 1290.5,346.9 1298.5,352.1 1306.5,357.4 1314.5,362.4 1322.5,367.5 1330.5,373.2 1338.5,379.8 1346.5,383.0 1354.5,382.5 1362.5,379.5 1370.5,375.5 1378.5,373.3 1386.5,370.3 1394.5,369.1 1402.5,370.2 1410.5,370.8 1418.5,372.1 1426.5,370.9 1434.5,368.8 1442.5,368.3 1450.5,368.4 1458.5,363.9 1466.5,360.1 1474.5,356.4 1482.5,353.3 1490.5,352.6 1498.5,350.2 1506.5,349.9 1514.5,350.1 1522.5,352.0 1530.5,354.3 1538.5,356.6 1546.5,358.2 1554.5,361.9 1562.5,364.3 1570.5,366.6 1578.5,370.5 1586.5,376.4 1594.5,382.5 1602.5,389.3 1610.5,395.5 1618.5,403.1 1626.5,412.4 1634.5,423.8 1642.5,433.6 1650.5,442.7 1658.5,449.1" fill="none" stroke="#ffa500" stroke-width="1" />
</g>
<g clip-path="url(#cm)" class="c">
<rect x="2" y="139" width="1675" height="2" fill="#ff0000"/>
<rect x="2" y="255" width="1675" height="2" fill="#ff0000"/>
<rect x="2" y="356" width="1675" height="2" fill="#ff0000"/>
<rect x="2" y="472" width="1675" height="2" fill="#00ff7f"/>
<rect x="2" y="596" width="1675" height="2" fill="#4169e1"/>
</g>
<g class="c">
<rect x="1" y="594" width="6" height="6" fill="#4169e1"/><rect x="3" y="596" width="2" height="2" fill="#ffffff"/>
<rect x="1671" y="594" width="6" height="6" fill="#4169e1"/><rect x="1673" y="596" width="2" height="2" fill="#ffffff"/>
</g>
<g class="c" fill="#000">
<rect x="1" y="30" width="1677" height="1"/>
<rect x="1" y="607" width="1677" height="1"/>
<rect x="1" y="30" width="1" height="578"/>
<rect x="1677" y="30" width="1" height="578"/>
<rect x="1" y="609" width="1677" height="1"/>
<rect x="1" y="751" width="1677" height="1"/>
<rect x="1" y="609" width="1" height="143"/>
<rect x="1677" y="609" width="1" height="143"/>
<rect x="1" y="753" width="1677" height="1"/>
<rect x="1" y="873" width="1677" height="1"/>
<rect x="1" y="753" width="1" height="121"/>
<rect x="1677" y="753" width="1" height="121"/>
</g>
<g clip-path="url(#cmacd)" class="c">
<rect x="2" y="632" width="1" height="38" fill="#c0c0c0"/>
<rect x="10" y="632" width="1" height="38" fill="#c0c0c0"/>
<rect x="18" y="633" width="1" height="37" fill="#c0c0c0"/>
<rect x="26" y="633" width="1" height="37" fill="#c0c0c0"/>
<rect x="34" y="637" width="1" height="33" fill="#c0c0c0"/>
<rect x="42" y="638" width="1" height="32" fill="#c0c0c0"/>
<rect x="50" y="635" width="1" height="35" fill="#c0c0c0"/>
<rect x="58" y="633" width="1" height="37" fill="#c0c0c0"/>
<rect x="66" y="635" width="1" height="35" fill="#c0c0c0"/>
<rect x="74" y="634" width="1" height="36" fill="#c0c0c0"/>
<rect x="82" y="635" width="1" height="35" fill="#c0c0c0"/>
<rect x="90" y="636" width="1" height="34" fill="#c0c0c0"/>
<rect x="98" y="635" width="1" height="35" fill="#c0c0c0"/>
<rect x="106" y="635" width="1" height="35" fill="#c0c0c0"/>
<rect x="114" y="636" width="1" height="34" fill="#c0c0c0"/>
<rect x="122" y="636" width="1" height="34" fill="#c0c0c0"/>
<rect x="130" y="636" width="1" height="34" fill="#c0c0c0"/>
<rect x="138" y="637" width="1" height="33" fill="#c0c0c0"/>
<rect x="146" y="637" width="1" height="33" fill="#c0c0c0"/>
<rect x="154" y="637" width="1" height="33" fill="#c0c0c0"/>
<rect x="162" y="638" width="1" height="32" fill="#c0c0c0"/>
<rect x="170" y="638" width="1" height="32" fill="#c0c0c0"/>
<rect x="178" y="637" width="1" height="33" fill="#c0c0c0"/>
<rect x="186" y="636" width="1" height="34" fill="#c0c0c0"/>
<rect x="194" y="637" width="1" height="33" fill="#c0c0c0"/>
<rect x="202" y="643" width="1" height="27" fill="#c0c0c0"/>
<rect x="210" y="648" width="1" height="22" fill="#c0c0c0"/>
<rect x="218" y="652" width="1" height="18" fill="#c0c0c0"/>
<rect x="226" y="652" width="1" height="18" fill="#c0c0c0"/>
<rect x="234" y="652" width="1" height="18" fill="#c0c0c0"/>
<rect x="242" y="650" width="1" height="20" fill="#c0c0c0"/>
<rect x="250" y="648" width="1" height="22" fill="#c0c0c0"/>
<rect x="258" y="647" width="1" height="23" fill="#c0c0c0"/>
<rect x="266" y="647" width="1" height="23" fill="#c0c0c0"/>
<rect x="274" y="647" width="1" height="23" fill="#c0c0c0"/>
<rect x="282" y="648" width="1" height="22" fill="#c0c0c0"/>
<rect x="290" y="647" width="1" height="23" fill="#c0c0c0"/>
<rect x="298" y="648" width="1" height="22" fill="#c0c0c0"/>
<rect x="306" y="648" width="1" height="22" fill="#c0c0c0"/>
<rect x="314" y="648" width="1" height="22" fill="#c0c0c0"/>
<rect x="322" y="651" width="1" height="19" fill="#c0c0c0"/>
<rect x="330" y="652" width="1" height="18" fill="#c0c0c0"/>
<rect x="338" y="653" width="1" height="17" fill="#c0c0c0"/>
<rect x="346" y="654" width="1" height="16" fill="#c0c0c0"/>
<rect x="354" y="656" width="1" height="14" fill="#c0c0c0"/>
<rect x="362" y="656" width="1" height="14" fill="#c0c0c0"/>
<rect x="370" y="657" width="1" height="13" fill="#c0c0c0"/>
<rect x="378" y="656" width="1" height="14" fill="#c0c0c0"/>
<rect x="386" y="657" width="1" height="13" fill="#c0c0c0"/>
<rect x="394" y="656" width="1" height="14" fill="#c0c0c0"/>
<rect x="402" y="656" width="1" height="14" fill="#c0c0c0"/>
<rect x="410" y="655" width="1" height="15" fill="#c0c0c0"/>
<rect x="418" y="655" width="1" height="15" fill="#c0c0c0"/>
<rect x="426" y="656" width="1" height="14" fill="#c0c0c0"/>
<rect x="434" y="655" width="1" height="15" fill="#c0c0c0"/>
<rect x="442" y="655" width="1" height="15" fill="#c0c0c0"/>
<rect x="450" y="655" width="1" height="15" fill="#c0c0c0"/>
<rect x="458" y="654" width="1" height="16" fill="#c0c0c0"/>
<rect x="466" y="653" width="1" height="17" fill="#c0c0c0"/>
<rect x="474" y="653" width="1" height="17" fill="#c0c0c0"/>
<rect x="482" y="653" width="1" height="17" fill="#c0c0c0"/>
<rect x="490" y="653" width="1" height="17" fill="#c0c0c0"/>
<rect x="498" y="657" width="1" height="13" fill="#c0c0c0"/>
<rect x="506" y="661" width="1" height="9" fill="#c0c0c0"/>
<rect x="514" y="666" width="1" height="4" fill="#c0c0c0"/>
<rect x="522" y="669" width="1" height="1" fill="#c0c0c0"/>
<rect x="530" y="669" width="1" height="3" fill="#c0c0c0"/>
<rect x="538" y="669" width="1" height="2" fill="#c0c0c0"/>
<rect x="546" y="668" width="1" height="2" fill="#c0c0c0"/>
<rect x="554" y="666" width="1" height="4" fill="#c0c0c0"/>
<rect x="562" y="664" width="1" height="6" fill="#c0c0c0"/>
<rect x="570" y="664" width="1" height="6" fill="#c0c0c0"/>
<rect x="578" y="667" width="1" height="3" fill="#c0c0c0"/>
<rect x="586" y="667" width="1" height="3" fill="#c0c0c0"/>
<rect x="594" y="664" width="1" height="6" fill="#c0c0c0"/>
<rect x="602" y="663" width="1" height="7" fill="#c0c0c0"/>
<rect x="610" y="660" width="1" height="10" fill="#c0c0c0"/>
<rect x="618" y="658" width="1" height="12" fill="#c0c0c0"/>
<rect x="626" y="655" width="1" height="15" fill="#c0c0c0"/>
<rect x="634" y="651" width="1" height="19" fill="#c0c0c0"/>
<rect x="642" y="649" width="1" height="21" fill="#c0c0c0"/>
<rect x="650" y="645" width="1" height="25" fill="#c0c0c0"/>
<rect x="658" y="642" width="1" height="28" fill="#c0c0c0"/>
<rect x="666" y="639" width="1" height="31" fill="#c0c0c0"/>
<rect x="674" y="636" width="1" height="34" fill="#c0c0c0"/>
<rect x="682" y="634" width="1" height="36" fill="#c0c0c0"/>
<rect x="690" y="636" width="1" height="34" fill="#c0c0c0"/>
<rect x="698" y="636" width="1" height="34" fill="#c0c0c0"/>
<rect x="706" y="635" width="1" height="35" fill="#c0c0c0"/>
<rect x="714" y="636" width="1" height="34" fill="#c0c0c0"/>
<rect x="722" y="636" width="1" height="34" fill="#c0c0c0"/>
<rect x="730" y="637" width="1" height="33" fill="#c0c0c0"/>
<rect x="738" y="635" width="1" height="35" fill="#c0c0c0"/>
<rect x="746" y="632" width="1" height="38" fill="#c0c0c0"/>
<rect x="754" y="629" width="1" height="41" fill="#c0c0c0"/>
<rect x="762" y="628" width="1" height="42" fill="#c0c0c0"/>
<rect x="770" y="627" width="1" height="43" fill="#c0c0c0"/>
<rect x="778" y="628" width="1" height="42" fill="#c0c0c0"/>
<rect x="786" y="625" width="1" height="45" fill="#c0c0c0"/>
<rect x="794" y="625" width="1" height="45" fill="#c0c0c0"/>
<rect x="802" y="625" width="1" height="45" fill="#c0c0c0"/>
<rect x="810" y="622" width="1" height="48" fill="#c0c0c0"/>
<rect x="818" y="623" width="1" height="47" fill="#c0c0c0"/>
<rect x="826" y="623" width="1" height="47" fill="#c0c0c0"/>
<rect x="834" y="625" width="1" height="45" fill="#c0c0c0"/>
<rect x="842" y="625" width="1" height="45" fill="#c0c0c0"/>
<rect x="850" y="625" width="1" height="45" fill="#c0c0c0"/>
<rect x="858" y="624" width="1" height="46" fill="#c0c0c0"/>
<rect x="866" y="622" width="1" height="48" fill="#c0c0c0"/>
<rect x="874" y="623" width="1" height="47" fill="#c0c0c0"/>
<rect x="882" y="625" width="1" height="45" fill="#c0c0c0"/>
<rect x="890" y="628" width="1" height="42" fill="#c0c0c0"/>
<rect x="898" y="632" width="1" height="38" fill="#c0c0c0"/>
<rect x="906" y="636" width="1" height="34" fill="#c0c0c0"/>
<rect x="914" y="638" width="1" height="32" fill="#c0c0c0"/>
<rect x="922" y="639" width="1" height="31" fill="#c0c0c0"/>
<rect x="930" y="641" width="1" height="29" fill="#c0c0c0"/>
<rect x="938" y="642" width="1" height="28" fill="#c0c0c0"/>
<rect x="946" y="641" width="1" height="29" fill="#c0c0c0"/>
<rect x="954" y="638" width="1" height="32" fill="#c0c0c0"/>
<rect x="962" y="637" width="1" height="33" fill="#c0c0c0"/>
<rect x="970" y="634" width="1" height="36" fill="#c0c0c0"/>
<rect x="978" y="632" width="1" height="38" fill="#c0c0c0"/>
<rect x="986" y="631" width="1" height="39" fill="#c0c0c0"/>
<rect x="994" y="626" width="1" height="44" fill="#c0c0c0"/>
<rect x="1002" y="621" width="1" height="49" fill="#c0c0c0"/>
<rect x="1010" y="619" width="1" height="51" fill="#c0c0c0"/>
<rect x="1018" y="618" width="1" height="52" fill="#c0c0c0"/>
<rect x="1026" y="620" width="1" height="50" fill="#c0c0c0"/>
<rect x="1034" y="635" width="1" height="35" fill="#c0c0c0"/>
<rect x="1042" y="653" width="1" height="17" fill="#c0c0c0"/>
<rect x="1050" y="669" width="1" height="2" fill="#c0c0c0"/>
<rect x="1058" y="669" width="1" height="13" fill="#c0c0c0"/>
<rect x="1066" y="669" width="1" height="18" fill="#c0c0c0"/>
<rect x="1074" y="669" width="1" height="25" fill="#c0c0c0"/>
<rect x="1082" y="669" width="1" height="39" fill="#c0c0c0"/>
<rect x="1090" y="669" width="1" height="44" fill="#c0c0c0"/>
<rect x="1098" y="669" width="1" height="49" fill="#c0c0c0"/>
<rect x="1106" y="669" width="1" height="55" fill="#c0c0c0"/>
<rect x="1114" y="669" width="1" height="57" fill="#c0c0c0"/>
<rect x="1122" y="669" width="1" height="59" fill="#c0c0c0"/>
<rect x="1130" y="669" width="1" height="58" fill="#c0c0c0"/>
<rect x="1138" y="669" width="1" height="54" fill="#c0c0c0"/>
<rect x="1146" y="669" width="1" height="51" fill="#c0c0c0"/>
<rect x="1154" y="669" width="1" height="46" fill="#c0c0c0"/>
<rect x="1162" y="669" width="1" height="44" fill="#c0c0c0"/>
<rect x="1170" y="669" width="1" height="41" fill="#c0c0c0"/>
<rect x="1178" y="669" width="1" height="47" fill="#c0c0c0"/>
<rect x="1186" y="669" width="1" height="56" fill="#c0c0c0"/>
<rect x="1194" y="669" width="1" height="65" fill="#c0c0c0"/>
<rect x="1202" y="669" width="1" height="74" fill="#c0c0c0"/>
<rect x="1210" y="669" width="1" height="77" fill="#c0c0c0"/>
<rect x="1218" y="669" width="1" height="76" fill="#c0c0c0"/>
<rect x="1226" y="669" width="1" height="73" fill="#c0c0c0"/>
<rect x="1234" y="669" width="1" height="63" fill="#c0c0c0"/>
<rect x="1242" y="669" width="1" height="56" fill="#c0c0c0"/>
<rect x="1250" y="669" width="1" height="47" fill="#c0c0c0"/>
<rect x="1258" y="669" width="1" height="44" fill="#c0c0c0"/>
<rect x="1266" y="669" width="1" height="41" fill="#c0c0c0"/>
<rect x="1274" y="669" width="1" height="38" fill="#c0c0c0"/>
<rect x="1282" y="669" width="1" height="34" fill="#c0c0c0"/>
<rect x="1290" y="669" width="1" height="40" fill="#c0c0c0"/>
<rect x="1298" y="669" width="1" height="42" fill="#c0c0c0"/>
<rect x="1306" y="669" width="1" height="42" fill="#c0c0c0"/>
<rect x="1314" y="669" width="1" height="41" fill="#c0c0c0"/>
<rect x="1322" y="669" width="1" height="39" fill="#c0c0c0"/>
<rect x="1330" y="669" width="1" height="40" fill="#c0c0c0"/>
<rect x="1338" y="669" width="1" height="41" fill="#c0c0c0"/>
<rect x="1346" y="669" width="1" height="43" fill="#c0c0c0"/>
<rect x="1354" y="669" width="1" height="39" fill="#c0c0c0"/>
<rect x="1362" y="669" width="1" height="34" fill="#c0c0c0"/>
<rect x="1370" y="669" width="1" height="28" fill="#c0c0c0"/>
<rect x="1378" y="669" width="1" height="25" fill="#c0c0c0"/>
<rect x="1386" y="669" width="1" height="18" fill="#c0c0c0"/>
<rect x="1394" y="669" width="1" height="15" fill="#c0c0c0"/>
<rect x="1402" y="669" width="1" height="12" fill="#c0c0c0"/>
<rect x="1410" y="669" width="1" height="9" fill="#c0c0c0"/>
<rect x="1418" y="669" width="1" height="6" fill="#c0c0c0"/>
<rect x="1426" y="669" width="1" height="1" fill="#c0c0c0"/>
<rect x="1434" y="664" width="1" height="6" fill="#c0c0c0"/>
<rect x="1442" y="663" width="1" height="7" fill="#c0c0c0"/>
<rect x="1450" y="663" width="1" height="7" fill="#c0c0c0"/>
<rect x="1458" y="661" width="1" height="9" fill="#c0c0c0"/>
<rect x="1466" y="660" width="1" height="10" fill="#c0c0c0"/>
<rect x="1474" y="658" width="1" height="12" fill="#c0c0c0"/>
<rect x="1482" y="657" width="1" height="13" fill="#c0c0c0"/>
<rect x="1490" y="661" width="1" height="9" fill="#c0c0c0"/>
<rect x="1498" y="664" width="1" height="6" fill="#c0c0c0"/>
<rect x="1506" y="669" width="1" height="4" fill="#c0c0c0"/>
<rect x="1514" y="669" width="1" height="13" fill="#c0c0c0"/>
<rect x="1522" y="669" width="1" height="19" fill="#c0c0c0"/>
<rect x="1530" y="669" width="1" height="22" fill="#c0c0c0"/>
<rect x="1538" y="669" width="1" height="24" fill="#c0c0c0"/>
<rect x="1546" y="669" width="1" height="24" fill="#c0c0c0"/>
<rect x="1554" y="669" width="1" height="26" fill="#c0c0c0"/>
<rect x="1562" y="669" width="1" height="26" fill="#c0c0c0"/>
<rect x="1570" y="669" width="1" height="24" fill="#c0c0c0"/>
<rect x="1578" y="669" width="1" height="27" fill="#c0c0c0"/>
<rect x="1586" y="669" width="1" height="32" fill="#c0c0c0"/>
<rect x="1594" y="669" width="1" height="34" fill="#c0c0c0"/>
<rect x="1602" y="669" width="1" height="36" fill="#c0c0c0"/>
<rect x="1610" y="669" width="1" height="38" fill="#c0c0c0"/>
<rect x="1618" y="669" width="1" height="44" fill="#c0c0c0"/>
<rect x="1626" y="669" width="1" height="50" fill="#c0c0c0"/>
<rect x="1634" y="669" width="1" height="59" fill="#c0c0c0"/>
<rect x="1642" y="669" width="1" height="60" fill="#c0c0c0"/>
<rect x="1650" y="669" width="1" height="60" fill="#c0c0c0"/>
<rect x="1658" y="669" width="1" height="57" fill="#c0c0c0"/>
<polyline points="2.5,637.7 10.5,636.3 18.5,635.2 26.5,634.4 34.5,634.1 42.5,634.2 50.5,634.0 58.5,633.9 66.5,634.1 74.5,634.3 82.5,634.7 90.5,635.0 98.5,635.2 106.5,635.0 114.5,634.8 122.5,634.9 130.5,635.2 138.5,635.4 146.5,635.8 154.5,636.1 162.5,636.3 170.5,636.6 178.5,636.8 186.5,636.8 194.5,636.9 202.5,637.8 210.5,639.1 218.5,640.7 226.5,642.4 234.5,643.9 242.5,645.2 250.5,646.5 258.5,647.7 266.5,648.8 274.5,649.2 282.5,649.1 290.5,648.6 298.5,648.1 306.5,647.6 314.5,647.5 322.5,647.8 330.5,648.5 338.5,649.2 346.5,650.0 354.5,650.9 362.5,651.9 370.5,652.9 378.5,653.8 386.5,654.8 394.5,655.3 402.5,655.7 410.5,655.9 418.5,655.9 426.5,655.9 434.5,655.8 442.5,655.6 450.5,655.5 458.5,655.2 466.5,654.9 474.5,654.6 482.5,654.4 490.5,654.2 498.5,654.3 506.5,655.0 514.5,656.2 522.5,657.7 530.5,659.5 538.5,661.4 546.5,663.1 554.5,664.5 562.5,665.8 570.5,666.6 578.5,667.3 586.5,667.4 594.5,666.9 602.5,666.0 610.5,664.9 618.5,663.8 626.5,662.6 634.5,661.1 642.5,659.4 650.5,657.0 658.5,654.3 666.5,651.4 674.5,648.4 682.5,645.5 690.5,643.1 698.5,641.0 706.5,639.2 714.5,637.8 722.5,636.7 730.5,636.1 738.5,635.7 746.5,635.3 754.5,634.6 762.5,633.7 770.5,632.7 778.5,631.8 786.5,630.7 794.5,629.5 802.5,628.1 810.5,626.6 818.5,625.7 826.5,625.0 834.5,624.7 842.5,624.5 850.5,624.2 858.5,624.1 866.5,623.8 874.5,623.6 882.5,623.9 890.5,624.5 898.5,625.5 906.5,626.7 914.5,628.2 922.5,629.7 930.5,631.6 938.5,633.8 946.5,635.8 954.5,637.3 962.5,638.2 970.5,638.4 978.5,638.0 986.5,637.2 994.5,635.8 1002.5,633.6 1010.5,631.1 1018.5,628.5 1026.5,626.4 1034.5,626.3 1042.5,628.4 1050.5,632.5 1058.5,638.1 1066.5,644.8 1074.5,652.7 1082.5,662.5 1090.5,673.0 1098.5,683.9 1106.5,693.6 1114.5,701.6 1122.5,708.0 1130.5,713.0 1138.5,716.9 1146.5,719.8 1154.5,720.6 1162.5,720.6 1170.5,719.7 1178.5,718.8 1186.5,718.7 1194.5,719.4 1202.5,721.1 1210.5,723.7 1218.5,726.5 1226.5,729.4 1234.5,731.5 1242.5,733.1 1250.5,733.2 1258.5,731.8 1266.5,729.1 1274.5,725.1 1282.5,720.4 1290.5,716.4 1298.5,713.0 1306.5,710.6 1314.5,709.0 1322.5,708.0 1330.5,707.6 1338.5,707.6 1346.5,708.2 1354.5,708.8 1362.5,708.1 1370.5,706.5 1378.5,704.7 1386.5,702.2 1394.5,699.6 1402.5,696.4 1410.5,692.8 1418.5,688.7 1426.5,684.4 1434.5,680.3 1442.5,676.5 1450.5,673.2 1458.5,670.4 1466.5,667.8 1474.5,665.4 1482.5,663.1 1490.5,661.8 1498.5,661.2 1506.5,662.1 1514.5,664.2 1522.5,666.8 1530.5,670.0 1538.5,673.5 1546.5,677.4 1554.5,681.5 1562.5,685.0 1570.5,688.2 1578.5,690.7 1586.5,692.8 1594.5,694.5 1602.5,696.1 1610.5,697.7 1618.5,699.8 1626.5,702.5 1634.5,706.2 1642.5,710.2 1650.5,713.9 1658.5,716.7" fill="none" stroke="#ff0000" stroke-width="1" stroke-dasharray="3,3"/>
</g>
<g clip-path="url(#crsi)" class="c">
<line x1="3" y1="790.5" x2="1677" y2="790.5" stroke="#c0c0c0" stroke-width="1" stroke-dasharray="3,3"/>
<line x1="3" y1="837.5" x2="1677" y2="837.5" stroke="#c0c0c0" stroke-width="1" stroke-dasharray="3,3"/>
<polyline points="2.5,792.1 10.5,793.7 18.5,795.3 26.5,792.6 34.5,805.9 42.5,800.9 50.5,791.8 58.5,793.6 66.5,801.8 74.5,797.4 82.5,802.4 90.5,800.7 98.5,797.1 106.5,797.2 114.5,799.4 122.5,796.5 130.5,796.1 138.5,798.5 146.5,798.0 154.5,795.3 162.5,798.0 170.5,793.6 178.5,790.9 186.5,790.7 194.5,795.0 202.5,819.1 210.5,815.5 218.5,816.6 226.5,805.6 234.5,806.7 242.5,799.2 250.5,798.7 258.5,800.8 266.5,802.2 274.5,801.9 282.5,804.8 290.5,799.3 298.5,805.5 306.5,801.7 314.5,804.0 322.5,812.0 330.5,808.8 338.5,806.6 346.5,808.9 354.5,812.3 362.5,807.4 370.5,806.6 378.5,805.4 386.5,807.1 394.5,802.5 402.5,803.6 410.5,798.9 418.5,803.5 426.5,808.5 434.5,803.4 442.5,803.9 450.5,801.8 458.5,800.0 466.5,797.9 474.5,799.3 482.5,800.2 490.5,797.3 498.5,818.8 506.5,824.5 514.5,829.0 522.5,823.5 530.5,822.2 538.5,811.7 546.5,808.4 554.5,804.0 562.5,805.0 570.5,809.9 578.5,822.5 586.5,812.1 594.5,804.8 602.5,806.0 610.5,803.8 618.5,801.9 626.5,797.5 634.5,793.3 642.5,797.7 650.5,793.1 658.5,791.5 666.5,788.4 674.5,787.8 682.5,790.5 690.5,802.9 698.5,797.1 706.5,795.1 714.5,797.4 722.5,797.1 730.5,797.6 738.5,790.8 746.5,785.7 754.5,785.1 762.5,787.5 770.5,787.4 778.5,791.4 786.5,783.7 794.5,793.7 802.5,790.4 810.5,786.3 818.5,795.9 826.5,794.0 834.5,798.2 842.5,794.0 850.5,794.8 858.5,790.0 866.5,788.8 874.5,793.5 882.5,796.8 890.5,803.8 898.5,805.9 906.5,806.9 914.5,803.9 922.5,799.1 930.5,804.9 938.5,803.8 946.5,796.2 954.5,792.5 962.5,792.5 970.5,789.4 978.5,788.9 986.5,788.6 994.5,780.4 1002.5,779.2 1010.5,785.0 1018.5,783.8 1026.5,795.7 1034.5,828.7 1042.5,834.4 1050.5,838.3 1058.5,833.9 1066.5,824.7 1074.5,828.7 1082.5,838.4 1090.5,828.4 1098.5,829.7 1106.5,831.7 1114.5,829.0 1122.5,830.6 1130.5,825.5 1138.5,821.3 1146.5,822.1 1154.5,820.3 1162.5,822.7 1170.5,821.0 1178.5,832.3 1186.5,837.0 1194.5,840.1 1202.5,841.2 1210.5,835.3 1218.5,830.4 1226.5,827.6 1234.5,816.8 1242.5,818.0 1250.5,814.6 1258.5,819.5 1266.5,821.3 1274.5,818.5 1282.5,818.0 1290.5,830.2 1298.5,827.1 1306.5,823.4 1314.5,823.0 1322.5,821.4 1330.5,826.0 1338.5,827.5 1346.5,828.7 1354.5,819.4 1362.5,815.7 1370.5,813.5 1378.5,816.5 1386.5,808.9 1394.5,813.7 1402.5,812.6 1410.5,811.7 1418.5,810.6 1426.5,806.1 1434.5,804.6 1442.5,809.4 1450.5,812.8 1458.5,808.7 1466.5,808.9 1474.5,805.4 1482.5,808.4 1490.5,819.6 1498.5,817.7 1506.5,828.5 1514.5,831.6 1522.5,830.1 1530.5,827.6 1538.5,824.8 1546.5,823.9 1554.5,825.8 1562.5,824.2 1570.5,821.2 1578.5,828.5 1586.5,835.1 1594.5,830.1 1602.5,830.9 1610.5,832.5 1618.5,839.2 1626.5,842.0 1634.5,847.3 1642.5,832.1 1650.5,830.5 1658.5,827.2" fill="none" stroke="#1e90ff" stroke-width="1" />
</g>
<g class="c" fill="#000">
<rect x="1678" y="43" width="2" height="1"/>
<rect x="1678" y="76" width="2" height="1"/>
<rect x="1678" y="109" width="2" height="1"/>
<rect x="1678" y="142" width="2" height="1"/>
<rect x="1678" y="175" width="2" height="1"/>
<rect x="1678" y="208" width="2" height="1"/>
<rect x="1678" y="241" width="2" height="1"/>
<rect x="1678" y="274" width="2" height="1"/>
<rect x="1678" y="307" width="2" height="1"/>
<rect x="1678" y="340" width="2" height="1"/>
<rect x="1678" y="373" width="2" height="1"/>
<rect x="1678" y="406" width="2" height="1"/>
<rect x="1678" y="439" width="2" height="1"/>
<rect x="1678" y="472" width="2" height="1"/>
<rect x="1678" y="505" width="2" height="1"/>
<rect x="1678" y="538" width="2" height="1"/>
<rect x="1678" y="571" width="2" height="1"/>
<rect x="1678" y="603" width="2" height="1"/>
</g>
<g>
<text x="1683.1" y="46.8" font-size="9.4" fill="#000" stroke="#000" stroke-width="0.2" textLength="39.20" lengthAdjust="spacingAndGlyphs" text-anchor="start" >3596.675</text>
<text x="1683.1" y="79.8" font-size="9.4" fill="#000" stroke="#000" stroke-width="0.2" textLength="39.20" lengthAdjust="spacingAndGlyphs" text-anchor="start" >3574.070</text>
<text x="1683.1" y="112.8" font-size="9.4" fill="#000" stroke="#000" stroke-width="0.2" textLength="39.20" lengthAdjust="spacingAndGlyphs" text-anchor="start" >3550.780</text>
<text x="1683.1" y="145.8" font-size="9.4" fill="#000" stroke="#000" stroke-width="0.2" textLength="39.20" lengthAdjust="spacingAndGlyphs" text-anchor="start" >3528.175</text>
<text x="1683.1" y="178.8" font-size="9.4" fill="#000" stroke="#000" stroke-width="0.2" textLength="39.20" lengthAdjust="spacingAndGlyphs" text-anchor="start" >3505.570</text>
<text x="1683.1" y="211.8" font-size="9.4" fill="#000" stroke="#000" stroke-width="0.2" textLength="39.20" lengthAdjust="spacingAndGlyphs" text-anchor="start" >3482.965</text>
<text x="1683.1" y="244.8" font-size="9.4" fill="#000" stroke="#000" stroke-width="0.2" textLength="39.20" lengthAdjust="spacingAndGlyphs" text-anchor="start" >3460.360</text>
<text x="1683.1" y="277.8" font-size="9.4" fill="#000" stroke="#000" stroke-width="0.2" textLength="39.20" lengthAdjust="spacingAndGlyphs" text-anchor="start" >3437.070</text>
<text x="1683.1" y="310.8" font-size="9.4" fill="#000" stroke="#000" stroke-width="0.2" textLength="39.20" lengthAdjust="spacingAndGlyphs" text-anchor="start" >3414.465</text>
<text x="1683.1" y="343.8" font-size="9.4" fill="#000" stroke="#000" stroke-width="0.2" textLength="39.20" lengthAdjust="spacingAndGlyphs" text-anchor="start" >3391.860</text>
<text x="1683.1" y="376.8" font-size="9.4" fill="#000" stroke="#000" stroke-width="0.2" textLength="39.20" lengthAdjust="spacingAndGlyphs" text-anchor="start" >3369.255</text>
<text x="1683.1" y="409.8" font-size="9.4" fill="#000" stroke="#000" stroke-width="0.2" textLength="39.20" lengthAdjust="spacingAndGlyphs" text-anchor="start" >3346.650</text>
<text x="1683.1" y="442.8" font-size="9.4" fill="#000" stroke="#000" stroke-width="0.2" textLength="39.20" lengthAdjust="spacingAndGlyphs" text-anchor="start" >3323.360</text>
<text x="1683.1" y="475.8" font-size="9.4" fill="#000" stroke="#000" stroke-width="0.2" textLength="39.20" lengthAdjust="spacingAndGlyphs" text-anchor="start" >3300.755</text>
<text x="1683.1" y="508.8" font-size="9.4" fill="#000" stroke="#000" stroke-width="0.2" textLength="39.20" lengthAdjust="spacingAndGlyphs" text-anchor="start" >3278.150</text>
<text x="1683.1" y="541.8" font-size="9.4" fill="#000" stroke="#000" stroke-width="0.2" textLength="39.20" lengthAdjust="spacingAndGlyphs" text-anchor="start" >3255.545</text>
<text x="1683.1" y="574.8" font-size="9.4" fill="#000" stroke="#000" stroke-width="0.2" textLength="39.20" lengthAdjust="spacingAndGlyphs" text-anchor="start" >3232.940</text>
<text x="1683.1" y="606.8" font-size="9.4" fill="#000" stroke="#000" stroke-width="0.2" textLength="39.20" lengthAdjust="spacingAndGlyphs" text-anchor="start" >3210.335</text>
</g>
<rect x="1679" y="134" width="45" height="11" fill="#ff0000" class="c"/><text x="1683" y="142.8" font-size="9.4" fill="#fff" stroke="#fff" stroke-width="0.2" textLength="39.20" lengthAdjust="spacingAndGlyphs" text-anchor="start" >3530.000</text>
<rect x="1679" y="250" width="45" height="11" fill="#ff0000" class="c"/><text x="1683" y="258.8" font-size="9.4" fill="#fff" stroke="#fff" stroke-width="0.2" textLength="39.20" lengthAdjust="spacingAndGlyphs" text-anchor="start" >3450.000</text>
<rect x="1679" y="351" width="45" height="11" fill="#ff0000" class="c"/><text x="1683" y="359.8" font-size="9.4" fill="#fff" stroke="#fff" stroke-width="0.2" textLength="39.20" lengthAdjust="spacingAndGlyphs" text-anchor="start" >3380.000</text>
<rect x="1679" y="467" width="45" height="11" fill="#00ff7f" class="c"/><text x="1683" y="475.8" font-size="9.4" fill="#fff" stroke="#fff" stroke-width="0.2" textLength="39.20" lengthAdjust="spacingAndGlyphs" text-anchor="start" >3300.000</text>
<rect x="1679" y="494" width="45" height="11" fill="#000000" class="c"/><text x="1683" y="502.8" font-size="9.4" fill="#fff" stroke="#fff" stroke-width="0.2" textLength="39.20" lengthAdjust="spacingAndGlyphs" text-anchor="start" >3282.500</text>
<rect x="1679" y="591" width="45" height="11" fill="#4169e1" class="c"/><text x="1683" y="599.8" font-size="9.4" fill="#fff" stroke="#fff" stroke-width="0.2" textLength="39.20" lengthAdjust="spacingAndGlyphs" text-anchor="start" >3215.000</text>
<g class="c" fill="#000"><rect x="1678" y="611" width="2" height="1"/><rect x="1678" y="669" width="2" height="1"/><rect x="1678" y="750" width="2" height="1"/><rect x="1678" y="755" width="2" height="1"/><rect x="1678" y="790" width="2" height="1"/><rect x="1678" y="837" width="2" height="1"/><rect x="1678" y="872" width="2" height="1"/></g>
<text x="1682" y="618.9" font-size="9.4" fill="#000" stroke="#000" stroke-width="0.2" textLength="33.28" lengthAdjust="spacingAndGlyphs" text-anchor="start" >28.5114</text>
<text x="1682" y="672.3" font-size="9.4" fill="#000" stroke="#000" stroke-width="0.2" textLength="18.29" lengthAdjust="spacingAndGlyphs" text-anchor="start" >0.00</text>
<text x="1681.4" y="746.9" font-size="9.4" fill="#000" stroke="#000" stroke-width="0.2" textLength="37.11" lengthAdjust="spacingAndGlyphs" text-anchor="start" >-39.9869</text>
<text x="1682" y="763.4" font-size="9.4" fill="#000" stroke="#000" stroke-width="0.2" textLength="15.68" lengthAdjust="spacingAndGlyphs" text-anchor="start" >100</text>
<text x="1682" y="793.6" font-size="9.4" fill="#000" stroke="#000" stroke-width="0.2" textLength="10.45" lengthAdjust="spacingAndGlyphs" text-anchor="start" >70</text>
<text x="1682" y="840.5" font-size="9.4" fill="#000" stroke="#000" stroke-width="0.2" textLength="10.45" lengthAdjust="spacingAndGlyphs" text-anchor="start" >30</text>
<text x="1682" y="869" font-size="9.4" fill="#000" stroke="#000" stroke-width="0.2" textLength="5.23" lengthAdjust="spacingAndGlyphs" text-anchor="start" >0</text>
<g class="c" fill="#000">
<rect x="2" y="874" width="1" height="3"/>
<rect x="66" y="874" width="1" height="3"/>
<rect x="130" y="874" width="1" height="3"/>
<rect x="194" y="874" width="1" height="3"/>
<rect x="258" y="874" width="1" height="3"/>
<rect x="322" y="874" width="1" height="3"/>
<rect x="386" y="874" width="1" height="3"/>
<rect x="450" y="874" width="1" height="3"/>
<rect x="514" y="874" width="1" height="3"/>
<rect x="578" y="874" width="1" height="3"/>
<rect x="642" y="874" width="1" height="3"/>
<rect x="706" y="874" width="1" height="3"/>
<rect x="770" y="874" width="1" height="3"/>
<rect x="834" y="874" width="1" height="3"/>
<rect x="898" y="874" width="1" height="3"/>
<rect x="962" y="874" width="1" height="3"/>
<rect x="1026" y="874" width="1" height="3"/>
<rect x="1090" y="874" width="1" height="3"/>
<rect x="1154" y="874" width="1" height="3"/>
<rect x="1218" y="874" width="1" height="3"/>
<rect x="1282" y="874" width="1" height="3"/>
<rect x="1346" y="874" width="1" height="3"/>
<rect x="1410" y="874" width="1" height="3"/>
<rect x="1474" y="874" width="1" height="3"/>
<rect x="1538" y="874" width="1" height="3"/>
<rect x="1602" y="874" width="1" height="3"/>
</g>
<g>
<text x="1.6" y="886" font-size="9.6" fill="#000" stroke="#000" stroke-width="0.2" textLength="47.85" lengthAdjust="spacingAndGlyphs" text-anchor="start" >5 Aug 2020</text>
<text x="65.4" y="886" font-size="9.6" fill="#000" stroke="#000" stroke-width="0.2" textLength="50.48" lengthAdjust="spacingAndGlyphs" text-anchor="start" >7 Aug 00:00</text>
<text x="129.4" y="886" font-size="9.6" fill="#000" stroke="#000" stroke-width="0.2" textLength="55.73" lengthAdjust="spacingAndGlyphs" text-anchor="start" >10 Aug 04:00</text>
<text x="193.4" y="886" font-size="9.6" fill="#000" stroke="#000" stroke-width="0.2" textLength="55.03" lengthAdjust="spacingAndGlyphs" text-anchor="start" >11 Aug 12:00</text>
<text x="257.4" y="886" font-size="9.6" fill="#000" stroke="#000" stroke-width="0.2" textLength="55.73" lengthAdjust="spacingAndGlyphs" text-anchor="start" >12 Aug 20:00</text>
<text x="321.4" y="886" font-size="9.6" fill="#000" stroke="#000" stroke-width="0.2" textLength="55.73" lengthAdjust="spacingAndGlyphs" text-anchor="start" >14 Aug 04:00</text>
<text x="385.4" y="886" font-size="9.6" fill="#000" stroke="#000" stroke-width="0.2" textLength="55.73" lengthAdjust="spacingAndGlyphs" text-anchor="start" >17 Aug 08:00</text>
<text x="449.4" y="886" font-size="9.6" fill="#000" stroke="#000" stroke-width="0.2" textLength="55.73" lengthAdjust="spacingAndGlyphs" text-anchor="start" >18 Aug 16:00</text>
<text x="513.4" y="886" font-size="9.6" fill="#000" stroke="#000" stroke-width="0.2" textLength="55.73" lengthAdjust="spacingAndGlyphs" text-anchor="start" >20 Aug 00:00</text>
<text x="577.4" y="886" font-size="9.6" fill="#000" stroke="#000" stroke-width="0.2" textLength="55.73" lengthAdjust="spacingAndGlyphs" text-anchor="start" >21 Aug 08:00</text>
<text x="641.4" y="886" font-size="9.6" fill="#000" stroke="#000" stroke-width="0.2" textLength="55.73" lengthAdjust="spacingAndGlyphs" text-anchor="start" >24 Aug 12:00</text>
<text x="705.4" y="886" font-size="9.6" fill="#000" stroke="#000" stroke-width="0.2" textLength="55.73" lengthAdjust="spacingAndGlyphs" text-anchor="start" >25 Aug 20:00</text>
<text x="769.4" y="886" font-size="9.6" fill="#000" stroke="#000" stroke-width="0.2" textLength="55.73" lengthAdjust="spacingAndGlyphs" text-anchor="start" >27 Aug 04:00</text>
<text x="833.4" y="886" font-size="9.6" fill="#000" stroke="#000" stroke-width="0.2" textLength="55.73" lengthAdjust="spacingAndGlyphs" text-anchor="start" >28 Aug 12:00</text>
<text x="897.4" y="886" font-size="9.6" fill="#000" stroke="#000" stroke-width="0.2" textLength="55.73" lengthAdjust="spacingAndGlyphs" text-anchor="start" >31 Aug 16:00</text>
<text x="961.4" y="886" font-size="9.6" fill="#000" stroke="#000" stroke-width="0.2" textLength="51.00" lengthAdjust="spacingAndGlyphs" text-anchor="start" >2 Sep 00:00</text>
<text x="1025.4" y="886" font-size="9.6" fill="#000" stroke="#000" stroke-width="0.2" textLength="51.00" lengthAdjust="spacingAndGlyphs" text-anchor="start" >3 Sep 08:00</text>
<text x="1089.4" y="886" font-size="9.6" fill="#000" stroke="#000" stroke-width="0.2" textLength="51.00" lengthAdjust="spacingAndGlyphs" text-anchor="start" >4 Sep 16:00</text>
<text x="1153.4" y="886" font-size="9.6" fill="#000" stroke="#000" stroke-width="0.2" textLength="51.00" lengthAdjust="spacingAndGlyphs" text-anchor="start" >7 Sep 22:00</text>
<text x="1217.4" y="886" font-size="9.6" fill="#000" stroke="#000" stroke-width="0.2" textLength="51.00" lengthAdjust="spacingAndGlyphs" text-anchor="start" >9 Sep 04:00</text>
<text x="1281.4" y="886" font-size="9.6" fill="#000" stroke="#000" stroke-width="0.2" textLength="56.26" lengthAdjust="spacingAndGlyphs" text-anchor="start" >10 Sep 12:00</text>
<text x="1345.4" y="886" font-size="9.6" fill="#000" stroke="#000" stroke-width="0.2" textLength="55.55" lengthAdjust="spacingAndGlyphs" text-anchor="start" >11 Sep 20:00</text>
<text x="1409.4" y="886" font-size="9.6" fill="#000" stroke="#000" stroke-width="0.2" textLength="56.26" lengthAdjust="spacingAndGlyphs" text-anchor="start" >15 Sep 00:00</text>
<text x="1473.4" y="886" font-size="9.6" fill="#000" stroke="#000" stroke-width="0.2" textLength="56.26" lengthAdjust="spacingAndGlyphs" text-anchor="start" >16 Sep 08:00</text>
<text x="1537.4" y="886" font-size="9.6" fill="#000" stroke="#000" stroke-width="0.2" textLength="56.26" lengthAdjust="spacingAndGlyphs" text-anchor="start" >17 Sep 16:00</text>
<text x="1601.4" y="886" font-size="9.6" fill="#000" stroke="#000" stroke-width="0.2" textLength="56.26" lengthAdjust="spacingAndGlyphs" text-anchor="start" >20 Sep 23:00</text>
</g>
<path d="M5,37 L12,37 L8.5,41 Z" fill="#000"/>
<text x="17" y="42" font-size="10" fill="#000" stroke="#000" stroke-width="0.2" textLength="212.40" lengthAdjust="spacingAndGlyphs" text-anchor="start" xml:space="preserve">SP500-,H4  3274.250 3282.750 3272.750 3282.500</text>
<text x="6" y="622.2" font-size="10" fill="#000" stroke="#000" stroke-width="0.2" textLength="143.96" lengthAdjust="spacingAndGlyphs" text-anchor="start" >MACD(12,26,9) -27.4335 -23.1630</text>
<text x="6" y="766.2" font-size="10" fill="#000" stroke="#000" stroke-width="0.2" textLength="67.87" lengthAdjust="spacingAndGlyphs" text-anchor="start" >RSI(14) 38.7872</text>
<text x="1164.5" y="556.6" font-size="37.6" fill="#ed1c24" textLength="181" lengthAdjust="spacingAndGlyphs" style="font-family:'Noto Sans CJK SC',sans-serif;font-weight:400">多空转折点</text>
<text x="1344.6" y="556" font-size="38.8" fill="#ed1c24" textLength="84" lengthAdjust="spacingAndGlyphs" style="font-family:'Liberation Sans',sans-serif;font-weight:400">3300</text>
<g class="c">
<rect x="0" y="7" width="1" height="1" fill="#404040"/><rect x="0" y="8" width="1" height="1" fill="#ffffff"/>
<rect x="2" y="7" width="1" height="1" fill="#404040"/><rect x="2" y="8" width="1" height="1" fill="#ffffff"/>
<rect x="4" y="7" width="1" height="1" fill="#404040"/><rect x="4" y="8" width="1" height="1" fill="#ffffff"/>
<rect x="6" y="7" width="1" height="1" fill="#404040"/><rect x="6" y="8" width="1" height="1" fill="#ffffff"/>
<rect x="8" y="7" width="1" height="1" fill="#404040"/><rect x="8" y="8" width="1" height="1" fill="#ffffff"/>
<rect x="10" y="7" width="1" height="1" fill="#404040"/><rect x="10" y="8" width="1" height="1" fill="#ffffff"/>
<rect x="0" y="10" width="1" height="1" fill="#404040"/><rect x="0" y="11" width="1" height="1" fill="#ffffff"/>
<rect x="2" y="10" width="1" height="1" fill="#404040"/><rect x="2" y="11" width="1" height="1" fill="#ffffff"/>
<rect x="4" y="10" width="1" height="1" fill="#404040"/><rect x="4" y="11" width="1" height="1" fill="#ffffff"/>
<rect x="6" y="10" width="1" height="1" fill="#404040"/><rect x="6" y="11" width="1" height="1" fill="#ffffff"/>
<rect x="8" y="10" width="1" height="1" fill="#404040"/><rect x="8" y="11" width="1" height="1" fill="#ffffff"/>
<rect x="10" y="10" width="1" height="1" fill="#404040"/><rect x="10" y="11" width="1" height="1" fill="#ffffff"/>
<rect x="0" y="14" width="1" height="1" fill="#404040"/><rect x="0" y="15" width="1" height="1" fill="#ffffff"/>
<rect x="2" y="14" width="1" height="1" fill="#404040"/><rect x="2" y="15" width="1" height="1" fill="#ffffff"/>
<rect x="4" y="14" width="1" height="1" fill="#404040"/><rect x="4" y="15" width="1" height="1" fill="#ffffff"/>
<rect x="6" y="14" width="1" height="1" fill="#404040"/><rect x="6" y="15" width="1" height="1" fill="#ffffff"/>
<rect x="8" y="14" width="1" height="1" fill="#404040"/><rect x="8" y="15" width="1" height="1" fill="#ffffff"/>
<rect x="10" y="14" width="1" height="1" fill="#404040"/><rect x="10" y="15" width="1" height="1" fill="#ffffff"/>
<rect x="0" y="18" width="1" height="1" fill="#404040"/><rect x="0" y="19" width="1" height="1" fill="#ffffff"/>
<rect x="2" y="18" width="1" height="1" fill="#404040"/><rect x="2" y="19" width="1" height="1" fill="#ffffff"/>
<rect x="4" y="18" width="1" height="1" fill="#404040"/><rect x="4" y="19" width="1" height="1" fill="#ffffff"/>
<rect x="6" y="18" width="1" height="1" fill="#404040"/><rect x="6" y="19" width="1" height="1" fill="#ffffff"/>
<rect x="54" y="7" width="2" height="2" fill="#505050"/>
<rect x="58" y="8" width="1" height="1" fill="#505050"/>
<rect x="60" y="8" width="1" height="1" fill="#505050"/>
<rect x="62" y="8" width="1" height="1" fill="#505050"/>
<rect x="64" y="8" width="1" height="1" fill="#505050"/>
<rect x="66" y="8" width="1" height="1" fill="#505050"/>
<rect x="55" y="10" width="1" height="1" fill="#505050"/><rect x="66" y="10" width="1" height="1" fill="#505050"/>
<rect x="55" y="12" width="1" height="1" fill="#505050"/><rect x="66" y="12" width="1" height="1" fill="#505050"/>
<rect x="55" y="14" width="1" height="1" fill="#505050"/><rect x="66" y="14" width="1" height="1" fill="#505050"/>
<rect x="55" y="16" width="1" height="1" fill="#505050"/><rect x="66" y="16" width="1" height="1" fill="#505050"/>
<rect x="55" y="18" width="1" height="1" fill="#505050"/><rect x="66" y="18" width="1" height="1" fill="#505050"/>
<rect x="55" y="20" width="1" height="1" fill="#505050"/>
<rect x="57" y="20" width="1" height="1" fill="#505050"/>
<rect x="59" y="20" width="1" height="1" fill="#505050"/>
<rect x="61" y="20" width="1" height="1" fill="#505050"/>
<rect x="63" y="20" width="1" height="1" fill="#505050"/>
<rect x="65" y="20" width="1" height="1" fill="#505050"/>
<rect x="114" y="1" width="1" height="25" fill="#a0a0a0"/><rect x="115" y="1" width="1" height="25" fill="#ffffff"/>
<rect x="375" y="1" width="1" height="25" fill="#a0a0a0"/><rect x="376" y="1" width="1" height="25" fill="#ffffff"/>
<rect x="118" y="4" width="3" height="1" fill="#909090"/>
<rect x="118" y="6" width="3" height="1" fill="#909090"/>
<rect x="118" y="8" width="3" height="1" fill="#909090"/>
<rect x="118" y="10" width="3" height="1" fill="#909090"/>
<rect x="118" y="12" width="3" height="1" fill="#909090"/>
<rect x="118" y="14" width="3" height="1" fill="#909090"/>
<rect x="118" y="16" width="3" height="1" fill="#909090"/>
<rect x="118" y="18" width="3" height="1" fill="#909090"/>
<rect x="118" y="20" width="3" height="1" fill="#909090"/>
<rect x="118" y="22" width="3" height="1" fill="#909090"/>
<rect x="180" y="2" width="26" height="23" fill="#f4f4f4"/><rect x="180" y="2" width="26" height="1" fill="#ffffff"/><rect x="180" y="2" width="1" height="23" fill="#ffffff"/><rect x="205" y="2" width="1" height="23" fill="#a0a0a0"/><rect x="180" y="24" width="26" height="1" fill="#a0a0a0"/>
<rect x="264" y="2" width="25" height="23" fill="#f8f8f8"/><rect x="264" y="2" width="25" height="1" fill="#a0a0a0"/><rect x="264" y="2" width="1" height="23" fill="#a0a0a0"/><rect x="288" y="2" width="1" height="23" fill="#ffffff"/><rect x="264" y="24" width="25" height="1" fill="#ffffff"/>
</g>
<g>
<text x="8" y="23" font-size="7.5" fill="#404040" stroke="#404040" stroke-width="0.2" textLength="4.58" lengthAdjust="spacingAndGlyphs" text-anchor="start" font-weight="bold">F</text>
<text x="28.9" y="18.8" font-size="12" fill="#454545" stroke="#454545" stroke-width="0.45" textLength="7.60" lengthAdjust="spacingAndGlyphs" text-anchor="start" >A</text>
<text x="56.8" y="19" font-size="11.5" fill="#505050" stroke="#505050" stroke-width="0.6" textLength="7.02" lengthAdjust="spacingAndGlyphs" text-anchor="start" >T</text>
<path d="M82,12 L85.5,8 L89,12 Z M84.5,12 h2.5 v1 h-2.5 Z M89,17.5 L96,17.5 L92.5,21 Z M91.2,16.3 h2.7 v1.2 h-2.7 Z" fill="#505050"/>
<path d="M84.2,15.2 L86.6,17.6 L90.8,12.4" fill="none" stroke="#505050" stroke-width="1.6"/>
<path d="M103,13 L108.2,13 L105.6,16 Z" fill="#000"/>
<text x="129.2" y="17.9" font-size="9.8" fill="#3c3c3c" stroke="#3c3c3c" stroke-width="0.1" textLength="13.07" lengthAdjust="spacingAndGlyphs" text-anchor="start" >M1</text>
<text x="157.3" y="17.9" font-size="9.8" fill="#3c3c3c" stroke="#3c3c3c" stroke-width="0.1" textLength="13.07" lengthAdjust="spacingAndGlyphs" text-anchor="start" >M5</text>
<text x="182.2" y="17.4" font-size="9.8" fill="#000" stroke="#000" stroke-width="0.1" textLength="18.30" lengthAdjust="spacingAndGlyphs" text-anchor="start" >M15</text>
<text x="211.1" y="17.9" font-size="9.8" fill="#3c3c3c" stroke="#3c3c3c" stroke-width="0.1" textLength="18.30" lengthAdjust="spacingAndGlyphs" text-anchor="start" >M30</text>
<text x="242.3" y="17.9" font-size="9.8" fill="#3c3c3c" stroke="#3c3c3c" stroke-width="0.1" textLength="12.03" lengthAdjust="spacingAndGlyphs" text-anchor="start" >H1</text>
<text x="269.2" y="17.9" font-size="9.8" fill="#3c3c3c" stroke="#3c3c3c" stroke-width="0.1" textLength="12.03" lengthAdjust="spacingAndGlyphs" text-anchor="start" >H4</text>
<text x="298.2" y="17.9" font-size="9.8" fill="#3c3c3c" stroke="#3c3c3c" stroke-width="0.1" textLength="12.03" lengthAdjust="spacingAndGlyphs" text-anchor="start" >D1</text>
<text x="325.7" y="17.9" font-size="9.8" fill="#3c3c3c" stroke="#3c3c3c" stroke-width="0.1" textLength="14.11" lengthAdjust="spacingAndGlyphs" text-anchor="start" >W1</text>
<text x="352.1" y="17.9" font-size="9.8" fill="#3c3c3c" stroke="#3c3c3c" stroke-width="0.1" textLength="14.63" lengthAdjust="spacingAndGlyphs" text-anchor="start" >MN</text>
</g>
</svg></body></html>
